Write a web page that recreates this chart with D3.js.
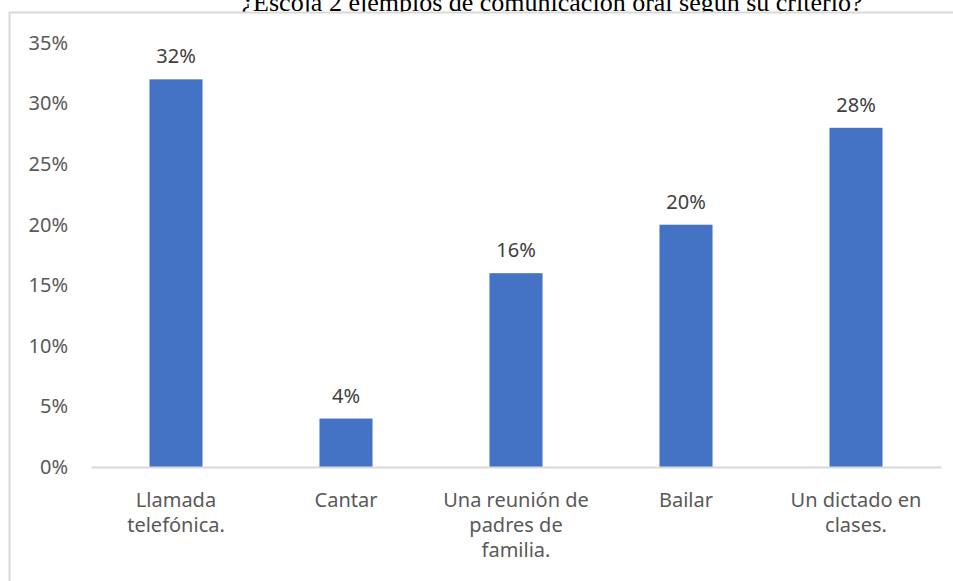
<!DOCTYPE html>
<html>
<head>
<meta charset="utf-8">
<script src="https://cdn.jsdelivr.net/npm/d3@7"></script>
<style>
  body { margin: 0; background: #fff; }
  svg { display: block; }
  .tick text { font-family: "Noto Sans", "Open Sans", sans-serif; font-size: 20px; fill: #595959; }
</style>
</head>
<body>
<div id="container"></div>
<script>
// chart data
const titleText = "¿Escoja 2 ejemplos de comunicación oral según su criterio?";
const categories = [
  ["Llamada", "telefónica."],
  ["Cantar"],
  ["Una reunión de", "padres de", "familia."],
  ["Bailar"],
  ["Un dictado en", "clases."]
];
const values = [0.32, 0.04, 0.16, 0.20, 0.28];
const yTicks = [0, 0.05, 0.10, 0.15, 0.20, 0.25, 0.30, 0.35];

// canvas size
const w = 953;
const h = 581;
const plotL = 91, plotR = 941, plotT = 43, plotB = 467;

const svg = d3.select("#container")
              .append("svg")
              .attr("width", w)
              .attr("height", h);

// title sits behind the chart box, so its bottom half is hidden
svg.append("text")
   .attr("x", 552)
   .attr("y", 11)
   .attr("text-anchor", "middle")
   .style("font-family", "'Liberation Serif', 'Times New Roman', serif")
   .style("font-size", "26px")
   .style("fill", "#000")
   .text(titleText);

// chart box
svg.append("rect")
   .attr("x", 9.5)
   .attr("y", 12.5)
   .attr("width", w + 10)
   .attr("height", h + 10)
   .attr("fill", "#fff")
   .attr("stroke", "#d9d9d9")
   .attr("stroke-width", 2);

const idx = categories.map((d, i) => i);

const xScale = d3.scaleBand()
                 .domain(idx)
                 .range([plotL, plotR])
                 .paddingInner(0.688)
                 .paddingOuter(0.344);

const yScale = d3.scaleLinear()
                 .domain([0, 0.35])
                 .range([plotB, plotT]);

// y axis labels
const yAxis = d3.axisLeft(yScale)
                .tickValues(yTicks)
                .tickFormat(d3.format(".0%"))
                .tickSize(0)
                .tickPadding(23);

svg.append("g")
   .attr("transform", "translate(" + plotL + ",0)")
   .call(yAxis)
   .call(g => g.select(".domain").remove());

// bars
svg.selectAll("rect.bar")
   .data(values)
   .enter()
   .append("rect")
   .attr("class", "bar")
   .attr("x", (d, i) => xScale(i))
   .attr("y", d => yScale(d))
   .attr("width", xScale.bandwidth())
   .attr("height", d => plotB - yScale(d))
   .attr("fill", "#4472c4");

// value labels
svg.selectAll("text.val")
   .data(values)
   .enter()
   .append("text")
   .attr("class", "val")
   .attr("x", (d, i) => xScale(i) + xScale.bandwidth() / 2)
   .attr("y", d => yScale(d) - 16)
   .attr("text-anchor", "middle")
   .style("font-family", "'Noto Sans', 'Open Sans', sans-serif")
   .style("font-size", "20px")
   .style("fill", "#404040")
   .text(d => d3.format(".0%")(d));

// x axis
const xAxis = d3.axisBottom(xScale)
                .tickSize(0)
                .tickFormat("");

const gx = svg.append("g")
   .attr("transform", "translate(0," + plotB + ")")
   .call(xAxis);
gx.select(".domain").attr("stroke", "#d9d9d9").attr("stroke-width", 2);

gx.selectAll(".tick text").remove();
gx.selectAll(".tick")
  .append("text")
  .attr("text-anchor", "middle")
  .attr("fill", "#595959")
  .selectAll("tspan")
  .data(i => categories[i])
  .enter()
  .append("tspan")
  .attr("x", 0)
  .attr("y", (d, j) => 40 + j * 25)
  .text(d => d);
</script>
</body>
</html>
